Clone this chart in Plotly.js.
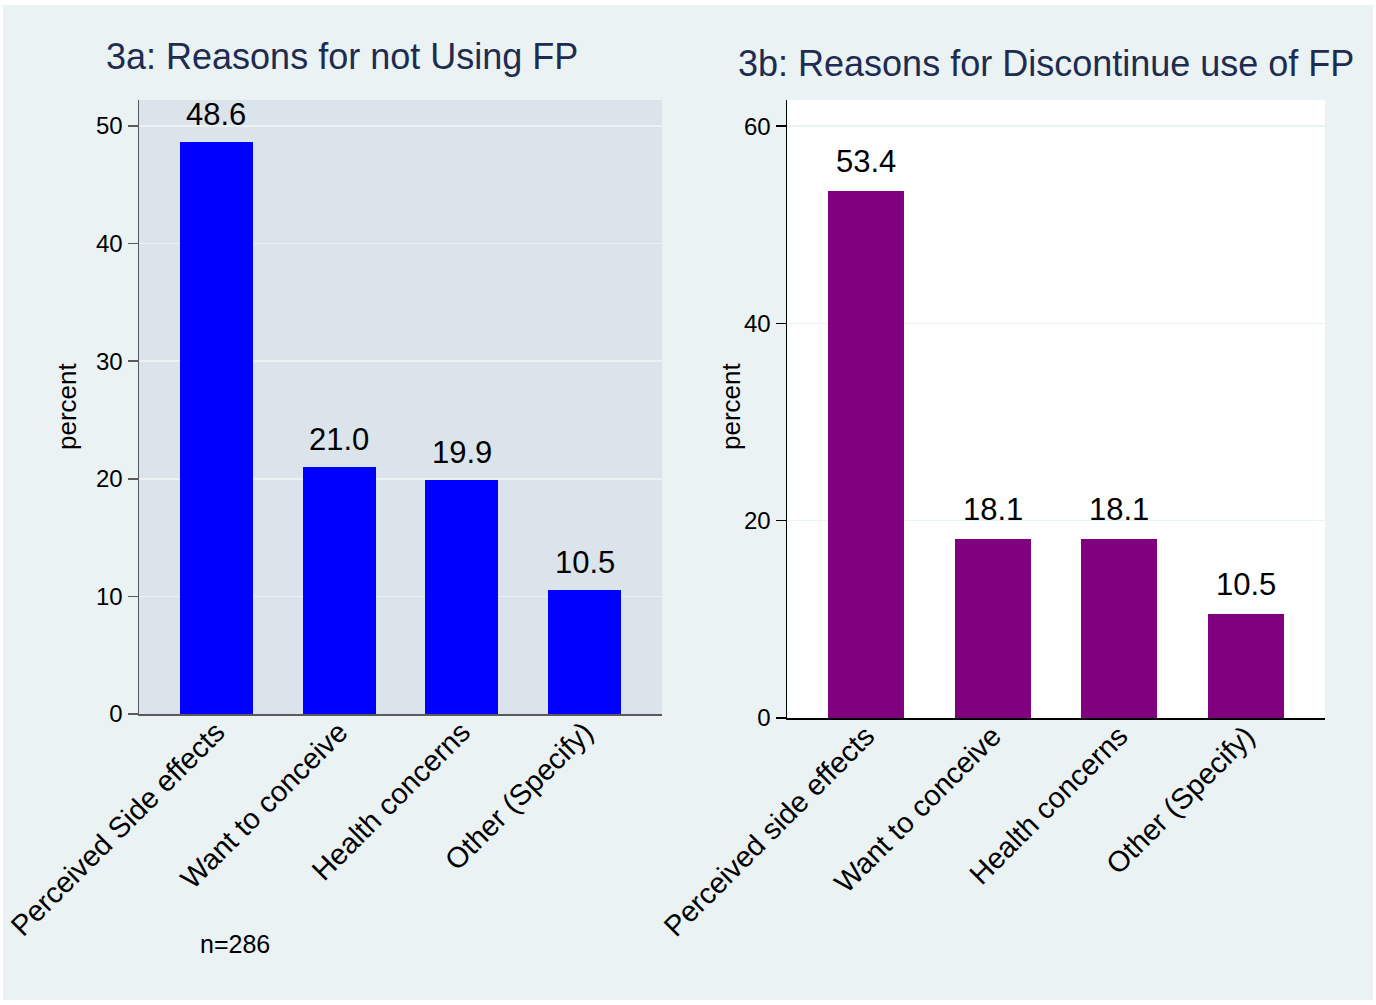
<!DOCTYPE html>
<html>
<head>
<meta charset="utf-8">
<script src="https://cdn.plot.ly/plotly-3.0.1.min.js"></script>
<style>
  html, body { margin: 0; padding: 0; background: #ffffff; }
  #frame { position: absolute; left: 3px; top: 5px; width: 1370px; height: 995px; background: #eaf2f3; }
  #chart { position: absolute; left: 0; top: 0; width: 1376px; height: 1005px; }
</style>
</head>
<body>
<div id="frame"></div>
<div id="chart"></div>
<script>
// ---- data ----
const titleA = "3a: Reasons for not Using FP";
const titleB = "3b: Reasons for Discontinue use of FP";
const categoriesA = ["Perceived Side effects", "Want to conceive", "Health concerns", "Other (Specify)"];
const valuesA = [48.6, 21.0, 19.9, 10.5];
const categoriesB = ["Perceived side effects", "Want to conceive", "Health concerns", "Other (Specify)"];
const valuesB = [53.4, 18.1, 18.1, 10.5];
const ticksA = [0, 10, 20, 30, 40, 50];
const ticksB = [0, 20, 40, 60];
const yTitle = "percent";
const noteA = "n=286";

// ---- layout helpers ----
const W = 1376, H = 1005;
const px = v => v / W;
const py = v => 1 - v / H;
const FONT = "Liberation Sans, Arial, sans-serif";

const traces = [
  { type: "bar", x: categoriesA, y: valuesA, xaxis: "x", yaxis: "y",
    width: 0.595, marker: { color: "#0000ff", line: { width: 0 } }, hoverinfo: "none" },
  { type: "bar", x: categoriesB, y: valuesB, xaxis: "x2", yaxis: "y2",
    width: 0.6, marker: { color: "#800080", line: { width: 0 } }, hoverinfo: "none" }
];

const annotations = [];
categoriesA.forEach((c, i) => annotations.push({
  x: c, y: valuesA[i], xref: "x", yref: "y", text: valuesA[i].toFixed(1),
  showarrow: false, yanchor: "bottom", yshift: 8, font: { family: FONT, size: 31, color: "#000" }
}));
categoriesB.forEach((c, i) => annotations.push({
  x: c, y: valuesB[i], xref: "x2", yref: "y2", text: valuesB[i].toFixed(1),
  showarrow: false, yanchor: "bottom", yshift: 10, font: { family: FONT, size: 31, color: "#000" }
}));
annotations.push(
  { xref: "paper", yref: "paper", x: px(342), y: py(56), text: titleA, showarrow: false,
    xanchor: "center", yanchor: "middle", font: { family: FONT, size: 36, color: "#1e2c50" } },
  { xref: "paper", yref: "paper", x: px(1046), y: py(64), text: titleB, showarrow: false,
    xanchor: "center", yanchor: "middle", font: { family: FONT, size: 36, color: "#1e2c50" } },
  { xref: "paper", yref: "paper", x: px(67), y: py(407), text: yTitle, showarrow: false, textangle: -90,
    xanchor: "center", yanchor: "middle", font: { family: FONT, size: 26, color: "#000" } },
  { xref: "paper", yref: "paper", x: px(731), y: py(407), text: yTitle, showarrow: false, textangle: -90,
    xanchor: "center", yanchor: "middle", font: { family: FONT, size: 26, color: "#000" } },
  { xref: "paper", yref: "paper", x: px(235), y: py(944), text: noteA, showarrow: false,
    xanchor: "center", yanchor: "middle", font: { family: FONT, size: 25, color: "#000" } }
);

const xCommon = {
  type: "category", tickangle: -45, showgrid: false, zeroline: false, ticks: "",
  showline: true, linewidth: 1.5, tickfont: { family: FONT, size: 29, color: "#000" },
  ticklabelstandoff: -12, fixedrange: true
};
const yCommon = {
  showgrid: true, gridcolor: "#eaf2f3", gridwidth: 1.5, zeroline: false,
  showline: true, linewidth: 1.5, ticks: "outside", ticklen: 10, tickwidth: 1.5,
  tickfont: { family: FONT, size: 24, color: "#000" }, fixedrange: true
};

const layout = {
  width: W, height: H,
  margin: { l: 0, r: 0, t: 0, b: 0 },
  paper_bgcolor: "rgba(0,0,0,0)",
  plot_bgcolor: "#dae4ea",
  showlegend: false,
  bargap: 0,
  xaxis: Object.assign({}, xCommon, {
    domain: [px(139), px(662)], anchor: "y", range: [-0.63, 3.63], linecolor: "#5a5a5a"
  }),
  yaxis: Object.assign({}, yCommon, {
    domain: [py(714), py(100)], anchor: "x", range: [0, 52.2],
    tickvals: ticksA, linecolor: "#5a5a5a", tickcolor: "#5a5a5a"
  }),
  xaxis2: Object.assign({}, xCommon, {
    domain: [px(787), px(1325)], anchor: "y2", range: [-0.624, 3.624], linecolor: "#000"
  }),
  yaxis2: Object.assign({}, yCommon, {
    domain: [py(718), py(100)], anchor: "x2", range: [0, 62.65],
    tickvals: ticksB, linecolor: "#000", tickcolor: "#000"
  }),
  shapes: [
    { type: "rect", xref: "x2 domain", yref: "y2 domain", x0: 0, x1: 1, y0: 0, y1: 1,
      fillcolor: "#ffffff", line: { width: 0 }, layer: "below" }
  ],
  annotations: annotations
};

Plotly.newPlot("chart", traces, layout, { displayModeBar: false, staticPlot: true });
</script>
</body>
</html>
